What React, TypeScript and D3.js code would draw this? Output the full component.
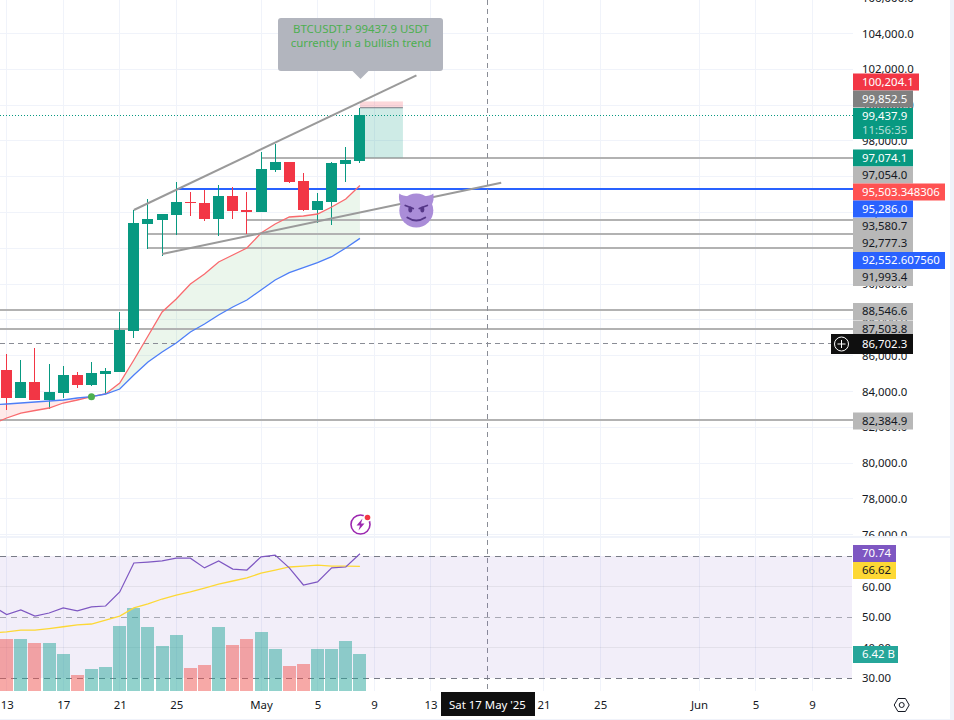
import React, { useEffect, useRef } from 'react';
import * as d3 from 'd3';

// daily candles, Apr 13 .. May 8 2025
const candleDays = ['04-13','04-14','04-15','04-16','04-17','04-18','04-19','04-20','04-21','04-22','04-23','04-24','04-25','04-26','04-27','04-28','04-29','04-30','05-01','05-02','05-03','05-04','05-05','05-06','05-07','05-08'];
const opens = [85200,83640,84530,83525,83920,84920,84360,84980,85090,87380,93360,93580,93860,94585,94530,93640,94920,94140,94030,96380,96820,95760,94140,94590,96710,96880];
const closes = [83640,84530,83525,83970,84920,84360,85030,85145,87440,93410,93640,93920,94590,94530,93640,94920,94080,94030,96430,96820,95700,94140,94640,96770,96930,99437.9];
const highs = [86100,85760,86430,85540,85420,85090,85650,85310,88440,94140,94750,93920,95700,95140,95260,95540,95420,95140,97380,97830,96820,96210,95090,96820,97660,99840];
const lows = [82970,83640,83525,83020,83640,84200,84310,83860,85090,86990,91960,91570,92740,93800,93530,92690,93640,92800,94030,96260,95650,94080,93410,93300,95700,96770];
const volumes = [9.03,9.03,8.33,8.33,6.42,2.78,3.82,4.17,11.28,14.41,11.11,7.81,9.72,3.99,4.51,11.11,7.99,9.03,10.24,7.29,4.34,4.69,7.29,7.29,8.68,6.42];

// lines start one day earlier, off the left edge
const lineDays = ['04-12', ...candleDays];
const fastMa = [82184,82519,82798,82938,83078,83357,83525,83709,83860,84475,85760,87101,88442,89168,90006,90565,91235,91626,92017,92855,93358,93749,93805,93916,94307,94754,95503];
const slowMa = [83246,83302,83357,83413,83469,83525,83637,83709,83860,84140,84922,85648,86207,86710,87325,87771,88274,88721,89112,89671,90229,90637,90916,91196,91531,92017,92553];
const rsi = [53.6,50.8,52.3,50.3,51.3,53,52,53.3,53.6,58.2,67.7,68,68.4,69.3,69.3,66.1,68.4,65.7,65.4,69.7,70.3,66.1,60.5,61.5,66.1,66.4,70.74];
const rsiMa = [44.8,45.1,45.7,45.7,46.2,46.8,47.4,47.7,49,50.3,53,54.3,55.9,57.2,58.2,59.5,60.8,61.8,62.8,64.4,65.4,66.4,66.7,67,66.7,66.7,66.62];

const priceTicks = [106000,104000,102000,100000,98000,96000,94000,92000,90000,88000,86000,84000,82000,80000,78000,76000];
const rsiTicks = [60,50,40,30];
const timeTicks = ['04-13','04-17','04-21','04-25','05-01','05-05','05-09','05-13','05-21','05-25','06-01','06-05','06-09'];

const levels = [
  { price: 97054, from: '05-01' },
  { price: 93580.7, from: '04-30' },
  { price: 92777.3, from: '04-23' },
  { price: 91993.4, from: '04-23' },
  { price: 88546.6, from: '04-01' },
  { price: 87503.8, from: '04-01' },
  { price: 82384.9, from: '04-01' },
];

const day = (s: string) => new Date(`2025-${s}T00:00:00Z`);

const green = '#089981';
const red = '#f23645';
const font = '"Noto Sans", sans-serif';
const fontSize = 11.4;

const App: React.FC = () => {
  const svgRef = useRef<SVGSVGElement | null>(null);

  useEffect(() => {
    if (!svgRef.current) return;
    const svg = d3.select(svgRef.current);
    svg.selectAll('*').remove();

    const paneRight = 853;
    const x = d3.scaleUtc().domain([day('04-13'), day('05-17')]).range([6.7, 487.1]);
    const y = d3.scaleLinear().domain([104000, 76000]).range([33.5, 534.7]);
    const rsiY = d3.scaleLinear().domain([70, 30]).range([556, 678]);
    const volY = d3.scaleLinear().domain([0, 6.42]).range([691, 654]);

    const defs = svg.append('defs');
    defs.append('clipPath').attr('id', 'price-clip-axis')
      .append('rect').attr('x', 0).attr('y', 0).attr('width', 100).attr('height', 536);

    // grid
    const grid = svg.append('g').attr('stroke', '#f0f3fa').attr('stroke-width', 1).attr('shape-rendering', 'crispEdges');
    priceTicks.forEach(p => grid.append('line').attr('x1', 0).attr('x2', paneRight).attr('y1', y(p)).attr('y2', y(p)));
    timeTicks.forEach(t => grid.append('line').attr('x1', x(day(t))).attr('x2', x(day(t))).attr('y1', 0).attr('y2', 691));

    svg.append('rect').attr('x', 0).attr('y', 536).attr('width', 950).attr('height', 2).attr('fill', '#f0f3fa');
    svg.append('rect').attr('x', 950).attr('y', 0).attr('width', 4).attr('height', 720).attr('fill', '#f0f3fa');
    svg.append('rect').attr('x', 0).attr('y', 719).attr('width', 954).attr('height', 1).attr('fill', '#f0f3fa');

    // moving average ribbon
    const lineDates = lineDays.map(day);
    const crossAt = lineDays.indexOf('04-19');
    const ribbon = d3.area<number>()
      .x(i => x(lineDates[i]))
      .y0(i => y(fastMa[i]))
      .y1(i => y(slowMa[i]));
    svg.append('path').attr('d', ribbon(d3.range(0, crossAt + 1))).attr('fill', 'rgba(255,82,82,0.12)');
    svg.append('path').attr('d', ribbon(d3.range(crossAt, lineDays.length))).attr('fill', 'rgba(76,175,80,0.11)');

    // level lines
    const lv = svg.append('g').attr('stroke', '#b2b2b2').attr('stroke-width', 2).attr('shape-rendering', 'crispEdges');
    levels.forEach(l => lv.append('line')
      .attr('x1', x(day(l.from))).attr('x2', paneRight)
      .attr('y1', Math.round(y(l.price))).attr('y2', Math.round(y(l.price))));
    svg.append('line').attr('x1', x(day('04-25'))).attr('x2', paneRight)
      .attr('y1', Math.round(y(95286))).attr('y2', Math.round(y(95286)))
      .attr('stroke', '#2962ff').attr('stroke-width', 2).attr('shape-rendering', 'crispEdges');

    // position tool
    const posX0 = x(day('05-08'));
    const posX1 = posX0 + 43;
    svg.append('rect').attr('x', posX0).attr('width', posX1 - posX0)
      .attr('y', y(100204.1)).attr('height', y(99852.5) - y(100204.1))
      .attr('fill', 'rgba(242,54,69,0.2)');
    svg.append('rect').attr('x', posX0).attr('width', posX1 - posX0)
      .attr('y', y(99852.5)).attr('height', y(97074.1) - y(99852.5))
      .attr('fill', 'rgba(8,153,129,0.2)');
    svg.append('line').attr('x1', posX0).attr('x2', posX1)
      .attr('y1', y(99852.5)).attr('y2', y(99852.5))
      .attr('stroke', '#787b86').attr('stroke-width', 1);

    // last price + crosshair
    svg.append('line').attr('x1', 0).attr('x2', paneRight)
      .attr('y1', Math.floor(y(99437.9)) + 0.5).attr('y2', Math.floor(y(99437.9)) + 0.5)
      .attr('stroke', green).attr('stroke-dasharray', '1 2');
    svg.append('line').attr('x1', 0).attr('x2', paneRight)
      .attr('y1', Math.floor(y(86702.3)) + 0.5).attr('y2', Math.floor(y(86702.3)) + 0.5)
      .attr('stroke', '#8a8d96').attr('stroke-dasharray', '5 4');
    const crossX = Math.floor(x(day('05-17'))) + 0.5;
    svg.append('line').attr('x1', crossX).attr('x2', crossX)
      .attr('y1', 0).attr('y2', 691)
      .attr('stroke', '#8a8d96').attr('stroke-dasharray', '5 4');

    // candles
    const candles = svg.append('g').attr('shape-rendering', 'crispEdges');
    candleDays.forEach((d, i) => {
      const cx = Math.floor(x(day(d)));
      const col = closes[i] >= opens[i] ? green : red;
      candles.append('line').attr('x1', cx + 0.5).attr('x2', cx + 0.5)
        .attr('y1', Math.round(y(highs[i]))).attr('y2', Math.round(y(lows[i])))
        .attr('stroke', col).attr('stroke-width', 1);
      const top = Math.round(y(Math.max(opens[i], closes[i])));
      const bottom = Math.round(y(Math.min(opens[i], closes[i])));
      candles.append('rect').attr('x', cx - 5).attr('width', 11)
        .attr('y', top).attr('height', Math.max(1, bottom - top))
        .attr('fill', col);
    });

    // moving average lines
    const priceLine = d3.line<number>().x((_, i) => x(lineDates[i])).y(v => y(v));
    svg.append('path').attr('d', priceLine(fastMa)).attr('fill', 'none').attr('stroke', '#f96a6e').attr('stroke-width', 1.3);
    svg.append('path').attr('d', priceLine(slowMa)).attr('fill', 'none').attr('stroke', '#4d7ef7').attr('stroke-width', 1.3);
    svg.append('circle').attr('cx', x(day('04-19'))).attr('cy', y(83709)).attr('r', 3.5).attr('fill', '#4caf50');

    // trend lines
    const trend = svg.append('g').attr('stroke', '#9a9a9a').attr('stroke-width', 2);
    trend.append('line')
      .attr('x1', x(day('04-22'))).attr('y1', y(94140))
      .attr('x2', x(day('05-12'))).attr('y2', y(101665));
    trend.append('line')
      .attr('x1', x(day('04-24'))).attr('y1', y(91680))
      .attr('x2', x(day('05-18'))).attr('y2', y(95665));

    // callout
    const callout = svg.append('g');
    callout.append('rect').attr('x', 278).attr('y', 18).attr('width', 165).attr('height', 53).attr('rx', 3).attr('fill', '#b2b5be');
    callout.append('path').attr('d', 'M352,70.5L360.5,79L369,70.5Z').attr('fill', '#b2b5be');
    ['BTCUSDT.P 99437.9 USDT', 'currently in a bullish trend'].forEach((t, i) => {
      callout.append('text').text(t).attr('x', 361).attr('y', 29 + i * 14).attr('dy', '.32em')
        .attr('text-anchor', 'middle').attr('font-family', font).attr('font-size', fontSize).attr('fill', '#4caf50');
    });

    // devil sticker
    const devil = svg.append('g').attr('transform', 'translate(416.3,210.5)');
    devil.append('path').attr('d', 'M-17,-17C-15,-15 -11,-15 -8,-14L-15,-5C-17,-8 -18,-13 -17,-17Z').attr('fill', '#aa8dd8');
    devil.append('path').attr('d', 'M17,-17C15,-15 11,-15 8,-14L15,-5C17,-8 18,-13 17,-17Z').attr('fill', '#aa8dd8');
    devil.append('circle').attr('r', 17).attr('fill', '#aa8dd8');
    const face = devil.append('g').attr('fill', '#553788');
    face.append('ellipse').attr('cx', -6).attr('cy', -1).attr('rx', 2).attr('ry', 3);
    face.append('ellipse').attr('cx', 6).attr('cy', -1).attr('rx', 2).attr('ry', 3);
    const strokes = devil.append('g').attr('stroke', '#553788').attr('stroke-width', 1.8).attr('fill', 'none').attr('stroke-linecap', 'round');
    strokes.append('path').attr('d', 'M-11,-5L-3,-2');
    strokes.append('path').attr('d', 'M11,-5L3,-2');
    strokes.append('path').attr('d', 'M-9,7Q0,13 9,7');

    // alert icon
    const alert = svg.append('g').attr('transform', 'translate(360.5,524.5)');
    alert.append('circle').attr('r', 9.5).attr('fill', '#fff').attr('stroke', '#9c27b0').attr('stroke-width', 1.6);
    alert.append('path').attr('d', 'M2,-6L-4,1H-0.5L-2,6L4,-1H0.5Z').attr('fill', '#9c27b0');
    alert.append('circle').attr('cx', 7).attr('cy', -7).attr('r', 4.3).attr('fill', '#fff');
    alert.append('circle').attr('cx', 7).attr('cy', -7).attr('r', 2.8).attr('fill', '#f23645');

    // rsi pane
    svg.append('rect').attr('x', 0).attr('width', 852).attr('y', rsiY(70)).attr('height', rsiY(30) - rsiY(70))
      .attr('fill', 'rgba(126,87,194,0.1)');
    [[70, 1], [50, 0.6], [30, 1]].forEach(([v, op]) => {
      svg.append('line').attr('x1', 0).attr('x2', 852).attr('y1', Math.floor(rsiY(v)) + 0.5).attr('y2', Math.floor(rsiY(v)) + 0.5)
        .attr('stroke', '#787b86').attr('stroke-opacity', op).attr('stroke-dasharray', '6 5');
    });
    [60, 40].forEach(v => {
      svg.append('line').attr('x1', 0).attr('x2', 852).attr('y1', rsiY(v)).attr('y2', rsiY(v))
        .attr('stroke', '#000').attr('stroke-opacity', 0.06);
    });

    // volume
    candleDays.forEach((d, i) => {
      svg.append('rect')
        .attr('x', Math.floor(x(day(d))) - 6).attr('width', 13)
        .attr('y', Math.round(volY(volumes[i]))).attr('height', Math.round(volY(0)) - Math.round(volY(volumes[i])))
        .attr('fill', closes[i] >= opens[i] ? 'rgba(38,166,154,0.5)' : 'rgba(239,83,80,0.5)');
    });

    const rsiLine = d3.line<number>().x((_, i) => x(lineDates[i])).y(v => rsiY(v));
    svg.append('path').attr('d', rsiLine(rsiMa)).attr('fill', 'none').attr('stroke', '#fdd835').attr('stroke-width', 1.3);
    svg.append('path').attr('d', rsiLine(rsi)).attr('fill', 'none').attr('stroke', '#7e57c2').attr('stroke-width', 1.2);

    // axes
    const priceAxis = svg.append('g')
      .attr('transform', `translate(${paneRight},0)`)
      .attr('clip-path', 'url(#price-clip-axis)')
      .call(d3.axisRight(y).tickValues(priceTicks).tickFormat(d => d3.format(',.1f')(d as number)).tickSize(0).tickPadding(9));
    const rsiAxis = svg.append('g')
      .attr('transform', `translate(${paneRight},0)`)
      .call(d3.axisRight(rsiY).tickValues(rsiTicks).tickFormat(d => d3.format('.2f')(d as number)).tickSize(0).tickPadding(9));
    const timeAxis = svg.append('g')
      .attr('transform', 'translate(0,700.5)')
      .call(d3.axisBottom(x).tickValues(timeTicks.map(day)).tickFormat(d => {
        const dt = d as Date;
        if (dt.getUTCDate() === 1) return d3.utcFormat('%b')(dt);
        return String(dt.getUTCDate());
      }).tickSize(0).tickPadding(0));
    [priceAxis, rsiAxis, timeAxis].forEach(a => {
      a.select('.domain').remove();
      a.selectAll('text').attr('font-family', font).attr('font-size', fontSize).attr('fill', '#131722');
    });

    // axis labels, stacked so they don't overlap
    const tags = [
      { text: '100,204.1', cy: 82, h: 17, w: 66, fill: '#f23645', color: '#fff' },
      { text: '99,852.5', cy: 99, h: 17, w: 60, fill: '#808080', color: '#fff' },
      { text: '97,074.1', cy: 158, h: 17, w: 60, fill: green, color: '#fff' },
      { text: '97,054.0', cy: 175, h: 17, w: 60, fill: '#b8b8b8', color: '#131722' },
      { text: '95,503.348306', cy: 192, h: 17, w: 92, fill: '#ff5252', color: '#fff' },
      { text: '95,286.0', cy: 209, h: 17, w: 60, fill: '#2962ff', color: '#fff' },
      { text: '93,580.7', cy: 226.5, h: 17, w: 60, fill: '#b8b8b8', color: '#131722' },
      { text: '92,777.3', cy: 243.5, h: 17, w: 60, fill: '#b8b8b8', color: '#131722' },
      { text: '92,552.607560', cy: 260.5, h: 17, w: 92, fill: '#2962ff', color: '#fff' },
      { text: '91,993.4', cy: 277.5, h: 17, w: 60, fill: '#b8b8b8', color: '#131722' },
      { text: '88,546.6', cy: 311.5, h: 17, w: 60, fill: '#b8b8b8', color: '#131722' },
      { text: '87,503.8', cy: 329, h: 17, w: 60, fill: '#b8b8b8', color: '#131722' },
      { text: '86,702.3', cy: 344, h: 20, w: 60, fill: '#0f0f0f', color: '#fff' },
      { text: '82,384.9', cy: 421, h: 17, w: 60, fill: '#b8b8b8', color: '#131722' },
      { text: '70.74', cy: 553.5, h: 17, w: 43, fill: '#7e57c2', color: '#fff' },
      { text: '66.62', cy: 570.5, h: 17, w: 43, fill: '#fdd835', color: '#131722' },
      { text: '6.42 B', cy: 654.5, h: 17, w: 45, fill: '#26a69a', color: '#fff' },
    ];
    const tagGroup = svg.append('g').attr('font-family', font).attr('font-size', fontSize);
    tags.forEach(t => {
      tagGroup.append('rect').attr('x', paneRight).attr('y', t.cy - t.h / 2).attr('width', t.w).attr('height', t.h).attr('fill', t.fill);
      tagGroup.append('text').text(t.text).attr('x', 862).attr('y', t.cy).attr('dy', '.35em').attr('fill', t.color);
    });

    // current price tag with countdown
    tagGroup.append('rect').attr('x', paneRight).attr('y', 108).attr('width', 60).attr('height', 31).attr('fill', green);
    tagGroup.append('text').text('99,437.9').attr('x', 862).attr('y', 116).attr('dy', '.35em').attr('fill', '#fff');
    tagGroup.append('text').text('11:56:35').attr('x', 862).attr('y', 130).attr('dy', '.35em').attr('fill', 'rgba(255,255,255,0.7)');

    // crosshair plus button
    const plus = svg.append('g');
    plus.append('rect').attr('x', 831).attr('y', 334).attr('width', 22).attr('height', 20).attr('fill', '#0f0f0f');
    plus.append('circle').attr('cx', 841.5).attr('cy', 344).attr('r', 7).attr('fill', 'none').attr('stroke', '#fff');
    plus.append('path').attr('d', 'M841.5,340V348M837.5,344H845.5').attr('stroke', '#fff');

    // crosshair date tag
    svg.append('rect').attr('x', 441).attr('y', 692).attr('width', 94).attr('height', 24).attr('fill', '#0f0f0f');
    svg.append('text').text("Sat 17 May '25").attr('x', 487.5).attr('y', 705).attr('dy', '.35em')
      .attr('text-anchor', 'middle').attr('font-family', font).attr('font-size', fontSize).attr('fill', '#fff');

    // settings icon
    const gear = svg.append('g').attr('transform', 'translate(901.7,705)').attr('fill', 'none').attr('stroke', '#131722');
    gear.append('path').attr('d', d3.line()(d3.range(6).map(i => {
      const a = (i * Math.PI) / 3;
      return [7.5 * Math.cos(a), 7.5 * Math.sin(a)] as [number, number];
    })) + 'Z');
    gear.append('circle').attr('r', 2.5);
  }, []);

  return (
    <svg
      ref={svgRef}
      width={954}
      height={720}
      style={{ position: 'absolute', left: 0, top: 0, display: 'block', background: '#fff' }}
    />
  );
};

export default App;
